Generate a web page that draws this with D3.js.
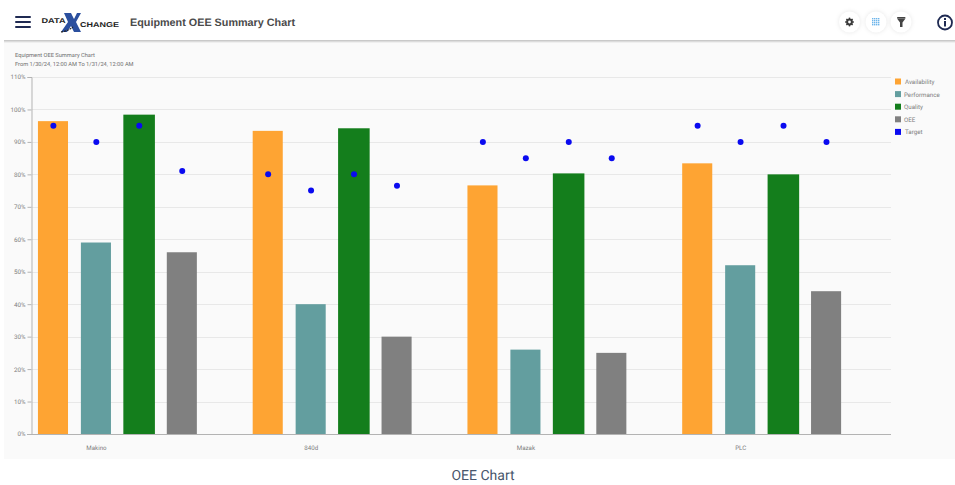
<!DOCTYPE html>
<html><head><meta charset="utf-8">
<script src="https://cdn.jsdelivr.net/npm/d3@7/dist/d3.min.js"></script>
<style>html,body{margin:0;padding:0;background:#fff;overflow:hidden}svg{display:block;text-rendering:geometricPrecision}</style>
</head><body><svg id="c" width="955" height="485"></svg>
<script>
const categories = ["Makino","840d","Mazak","PLC"];
const seriesNames = ["Availability","Performance","Quality","OEE"];
const legendNames = ["Availability","Performance","Quality","OEE","Target"];
const colors = ["#fea433","#639e9f","#147e1c","#808080","#0a0af0"];
const availability = [96.4,93.4,76.6,83.4];
const performance_ = [59,40,26,52];
const quality = [98.4,94.2,80.3,80];
const oee = [56,30,25,44];
const targetAvailability = [95,80,90,95];
const targetPerformance = [90,75,85,90];
const targetQuality = [95,80,90,95];
const targetOee = [81,76.5,85,90];
const yTicks = [0,10,20,30,40,50,60,70,80,90,100,110];
const values = [availability,performance_,quality,oee];
const targets = [targetAvailability,targetPerformance,targetQuality,targetOee];

const svg = d3.select("#c");
const F = "Roboto, sans-serif";
const TXT = "#808080";
svg.append("rect").attr("x",4).attr("y",41).attr("width",951).attr("height",418).attr("fill","#fafafa");
[["#c9c9c9",40],["#dcdcdc",41],["#efefef",42]].forEach(d=>svg.append("rect").attr("x",4).attr("y",d[1]).attr("width",951).attr("height",1).attr("fill",d[0]));

const x0 = d3.scaleBand().domain(categories).range([31.5,890.5]);
const x1 = d3.scaleBand().domain(legendNames).range([0,x0.bandwidth()]).paddingInner(0.3).paddingOuter(0.15);
const y = d3.scaleLinear().domain([0,110]).range([434,77]);

svg.append("g").selectAll("line").data(yTicks.slice(1)).join("line")
 .attr("x1",32).attr("x2",891).attr("y1",d=>Math.round(y(d))+.5).attr("y2",d=>Math.round(y(d))+.5)
 .attr("stroke","#e8e8e8");
const groups = svg.append("g").selectAll("g").data(categories).join("g").attr("transform",d=>`translate(${x0(d)},0)`);
groups.each(function(c,ci){
  const g = d3.select(this);
  seriesNames.forEach((s,si)=>{
    const q = si===2;
    g.append("rect").attr("x",x1(s)-(q?0.5:0)).attr("width",x1.bandwidth()+(q?1.5:0)).attr("y",y(values[si][ci])).attr("height",434-y(values[si][ci])).attr("fill",colors[si]);
    g.append("circle").attr("cx",x1(s)+x1.bandwidth()/2+0.4).attr("cy",y(targets[si][ci])).attr("r",3).attr("fill",colors[4]);
  });
});
const yAxis = d3.axisLeft(y).tickValues(yTicks).tickSize(4).tickPadding(2).tickFormat(d=>d+"%");
const ya = svg.append("g").attr("transform","translate(31.5,0)").call(yAxis);
ya.select(".domain").attr("stroke","#b3b3b3");
ya.selectAll(".tick line").attr("stroke","#b3b3b3");
ya.selectAll("text").attr("fill",TXT).attr("font-family",F).attr("font-size",6.2);
const xa = svg.append("g").attr("transform","translate(0,434.5)").call(
  d3.axisBottom(d3.scalePoint().domain(categories).range([x0(categories[0])+x1("Performance")+x1.bandwidth()/2,x0(categories[3])+x1("Performance")+x1.bandwidth()/2])).tickSize(0).tickPadding(11));
xa.select(".domain").attr("d","M27,0H891").attr("stroke","#b3b3b3");
xa.selectAll("text").attr("fill",TXT).attr("font-family",F).attr("font-size",6.2);
const lg = svg.append("g").selectAll("g").data(legendNames).join("g").attr("transform",(d,i)=>`translate(895,${78.5+i*12.6})`);
lg.append("rect").attr("width",6).attr("height",6).attr("fill",(d,i)=>colors[i]);
lg.append("text").attr("x",d=>(d==="Performance"||d==="Quality"||d==="OEE")?9:10).attr("y",5.5).attr("fill",TXT).attr("font-family",F).attr("font-size",6.2).text(d=>d);
svg.append("text").attr("x",15).attr("y",57).attr("fill","#707070").attr("font-family",F).attr("font-size",5.7).text("Equipment OEE Summary Chart");
svg.append("text").attr("x",15).attr("y",66).attr("fill","#707070").attr("font-family",F).attr("font-size",5.7).text("From 1/30/24, 12:00 AM To 1/31/24, 12:00 AM");
svg.append("text").attr("x",483).attr("y",480).attr("text-anchor","middle").attr("fill","#48566c").attr("font-family",F).attr("font-size",14).text("OEE Chart");
svg.append("text").attr("x",130).attr("y",26).attr("fill","#4a4a4a").attr("font-family","Liberation Sans, Arial, sans-serif").attr("font-weight","bold").attr("font-size",10.8).text("Equipment OEE Summary Chart");
[17,22,27].forEach(yy=>svg.append("rect").attr("x",15).attr("y",yy-1).attr("width",16).attr("height",2).attr("rx",1).attr("fill","#1f2a52"));
const lo = svg.append("g");
lo.append("text").attr("x",41.5).attr("y",23).attr("font-family","Liberation Sans, sans-serif").attr("font-weight","bold").attr("font-size",7).attr("textLength",24).attr("lengthAdjust","spacingAndGlyphs").attr("fill","#222").text("DATA");
lo.append("path").attr("d","M64,13H71L74,19L77,13H81L76,22L81,32H74L71,26L67,32H61L68,22Z").attr("fill","#2b4f9e");
lo.append("text").attr("x",80).attr("y",27).attr("font-family","Liberation Sans, sans-serif").attr("font-weight","bold").attr("font-size",7).attr("textLength",39).attr("lengthAdjust","spacingAndGlyphs").attr("fill","#222").text("CHANGE");
lo.append("path").attr("d","M61,32Q68,31 73,27").attr("fill","none").attr("stroke","#222").attr("stroke-width",1.2).attr("stroke-dasharray","2 1");
[[849.5,22],[876,22],[901,22]].forEach(p=>svg.append("circle").attr("cx",p[0]).attr("cy",p[1]).attr("r",10.5).attr("fill","#fff").style("filter","drop-shadow(0 0 2px rgba(0,0,0,.1))"));
svg.append("circle").attr("cx",849.5).attr("cy",22).attr("r",2.4).attr("fill","none").attr("stroke","#3a3a3a").attr("stroke-width",2);
d3.range(0,8).forEach(i=>svg.append("rect").attr("x",848.8).attr("y",17.6).attr("width",1.4).attr("height",1.6).attr("fill","#3a3a3a").attr("transform",`rotate(${i*45} 849.5 22)`));
d3.range(4).forEach(i=>d3.range(4).forEach(j=>svg.append("rect").attr("x",872+i*2).attr("y",18+j*2).attr("width",1.4).attr("height",1.4).attr("fill","#6db5ea")));
svg.append("path").attr("d","M897,18.5H905.5L902.5,22.5V27H900V22.5Z").attr("fill","#444");
svg.append("rect").attr("x",897).attr("y",17).attr("width",8.5).attr("height",1.6).attr("rx",.8).attr("fill","#444");
svg.append("circle").attr("cx",945).attr("cy",22.5).attr("r",7).attr("fill","#fff").attr("stroke","#1f2a52").attr("stroke-width",1.8);
svg.append("rect").attr("x",944).attr("y",21).attr("width",2).attr("height",5.5).attr("fill","#1f2a52");
svg.append("rect").attr("x",944).attr("y",18).attr("width",2).attr("height",2).attr("fill","#1f2a52");
</script></body></html>
